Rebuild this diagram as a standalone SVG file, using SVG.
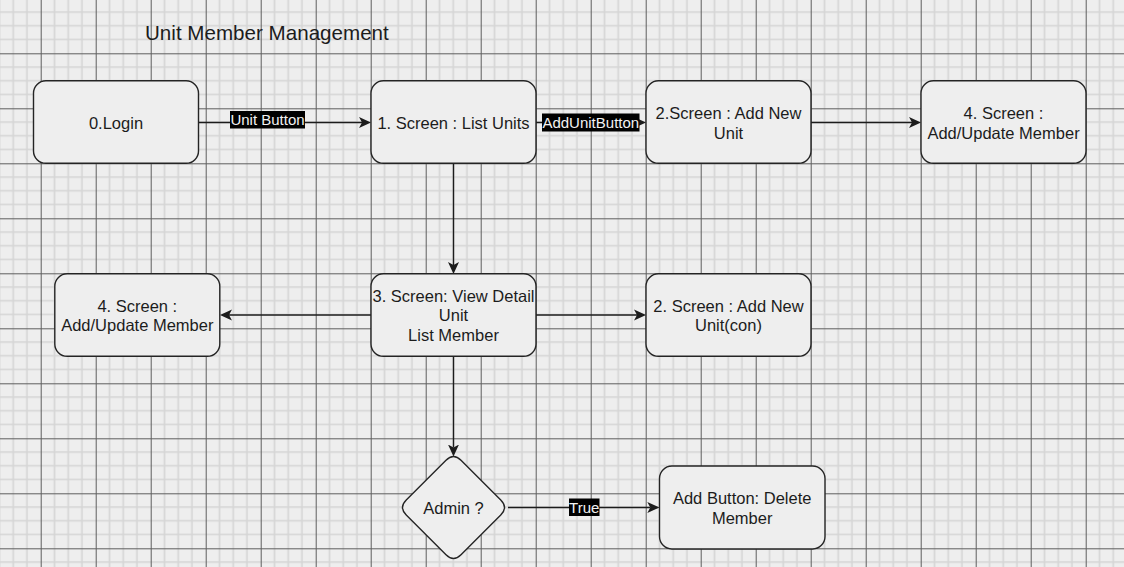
<svg xmlns="http://www.w3.org/2000/svg" width="1124" height="567" viewBox="0 0 1124 567">
<style>
.node rect,.node path{fill:#eeeeee;stroke:#242424;stroke-width:1.4}
.t{font-family:"Liberation Sans",Arial,sans-serif;font-size:16.5px;fill:#1c1c1c;text-anchor:middle}
.e{stroke:#1c1c1c;stroke-width:1.4;fill:none}
.lb{fill:#000000}
.lt{font-family:"Liberation Sans",Arial,sans-serif;font-size:15px;fill:#f2f2f2;text-anchor:middle}
</style>
<defs>
<pattern id="grid" patternUnits="userSpaceOnUse" x="40.7" y="-1.7" width="55" height="55">
<rect width="55" height="55" fill="#eeeeee"/>
<g stroke="#d5d5d5" stroke-width="1.6">
<line x1="13.75" y1="0" x2="13.75" y2="55"/><line x1="27.5" y1="0" x2="27.5" y2="55"/><line x1="41.25" y1="0" x2="41.25" y2="55"/>
<line x1="0" y1="13.75" x2="55" y2="13.75"/><line x1="0" y1="27.5" x2="55" y2="27.5"/><line x1="0" y1="41.25" x2="55" y2="41.25"/>
</g>
<g stroke="#5e5e5e" stroke-width="1">
<line x1="0.5" y1="0" x2="0.5" y2="55"/><line x1="0" y1="0.5" x2="55" y2="0.5"/>
</g>
</pattern>
<marker id="arr" viewBox="-12 -6 12 12" refX="-9" refY="0" markerWidth="12" markerHeight="12" markerUnits="userSpaceOnUse" orient="auto">
<path d="M0,0 L-12,-5.5 L-9,0 L-12,5.5 Z" fill="#1c1c1c"/>
</marker>
</defs>
<rect width="1124" height="567" fill="url(#grid)"/>
<text x="145" y="39.5" font-family="'Liberation Sans',Arial,sans-serif" font-size="20.6" fill="#1c1c1c">Unit Member Management</text>
<g id="connectors">
<line class="e" x1="198.5" y1="122.5" x2="362" y2="122.5" marker-end="url(#arr)"/>
<line class="e" x1="536" y1="122.5" x2="637" y2="122.5" marker-end="url(#arr)"/>
<line class="e" x1="811" y1="122.5" x2="912" y2="122.5" marker-end="url(#arr)"/>
<line class="e" x1="453.5" y1="163.3" x2="453.5" y2="265" marker-end="url(#arr)"/>
<line class="e" x1="371" y1="315" x2="229" y2="315" marker-end="url(#arr)"/>
<line class="e" x1="536" y1="315" x2="637" y2="315" marker-end="url(#arr)"/>
<line class="e" x1="453.5" y1="356.3" x2="453.5" y2="447.5" marker-end="url(#arr)"/>
<line class="e" x1="508" y1="507.5" x2="650.3" y2="507.5" marker-end="url(#arr)"/>
<g id="label-unit-button"><rect class="lb" x="230" y="111" width="75" height="17.5"/><text class="lt" x="267.5" y="125">Unit Button</text></g>
<g id="label-addunitbutton"><rect class="lb" x="542" y="113.5" width="97.5" height="18"/><text class="lt" x="590.8" y="127.5">AddUnitButton</text></g>
<g id="label-true"><rect class="lb" x="569" y="498.5" width="30.5" height="17.5"/><text class="lt" x="584.2" y="512.5">True</text></g>
</g>
<g id="n0" class="node"><rect x="33.5" y="80.8" width="165" height="82.5" rx="12.4"/><text class="t" x="116" y="129">0.Login</text></g>
<g id="n1" class="node"><rect x="371" y="80.8" width="165" height="82.5" rx="12.4"/><text class="t" x="453.5" y="129">1. Screen : List Units</text></g>
<g id="n2" class="node"><rect x="646" y="80.8" width="165" height="82.5" rx="12.4"/><text class="t" x="728.5" y="119.2">2.Screen : Add New</text><text class="t" x="728.5" y="139">Unit</text></g>
<g id="n4a" class="node"><rect x="921" y="80.8" width="165" height="82.5" rx="12.4"/><text class="t" x="1003.5" y="119.2">4. Screen :</text><text class="t" x="1003.5" y="139">Add/Update Member</text></g>
<g id="n4b" class="node"><rect x="54.8" y="273.8" width="165" height="82.5" rx="12.4"/><text class="t" x="137.3" y="311.5">4. Screen :</text><text class="t" x="137.3" y="331.3">Add/Update Member</text></g>
<g id="n3" class="node"><rect x="371" y="273.8" width="165" height="82.5" rx="12.4"/><text class="t" x="453.5" y="301.5">3. Screen: View Detail</text><text class="t" x="453.5" y="321.3">Unit</text><text class="t" x="453.5" y="341.1">List Member</text></g>
<g id="n2c" class="node"><rect x="646" y="273.8" width="165" height="82.5" rx="12.4"/><text class="t" x="728.5" y="311.5">2. Screen : Add New</text><text class="t" x="728.5" y="331.3">Unit(con)</text></g>
<g id="admin" class="node"><path d="M446,460.25 Q453.5,452.75 461,460.25 L500.75,500 Q508.25,507.5 500.75,515 L461,554.75 Q453.5,562.25 446,554.75 L406.25,515 Q398.75,507.5 406.25,500 Z"/><text class="t" x="453.5" y="514">Admin ?</text></g>
<g id="del" class="node"><rect x="659.5" y="466" width="165.5" height="83" rx="12.4"/><text class="t" x="742.2" y="504.2">Add Button: Delete</text><text class="t" x="742.2" y="524">Member</text></g>
</svg>
